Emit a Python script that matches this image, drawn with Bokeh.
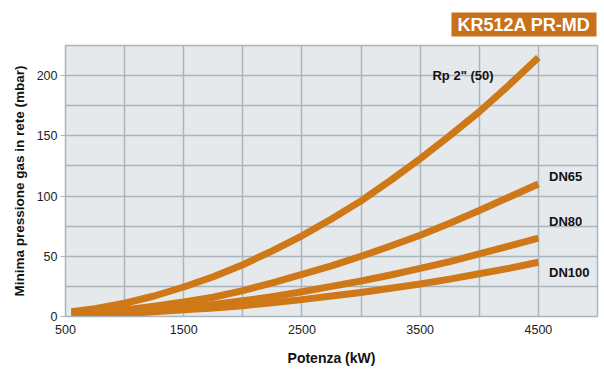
from bokeh.plotting import figure
from bokeh.models import Range1d, FixedTicker, Label, Title
from bokeh.embed import file_html
from bokeh.resources import INLINE

# Data (Potenza kW vs pressure mbar)
potenza = [550, 750, 1000, 1250, 1500, 1750, 2000, 2250, 2500,
           2750, 3000, 3250, 3500, 3750, 4000, 4250, 4500]
rp2_50 = [4, 6.5, 11, 17, 24.5, 33, 43, 54.5, 67, 81, 96, 113, 131, 150, 170, 192, 215]
dn65 = [2.5, 3.5, 5.5, 8.5, 12, 16, 21.5, 28, 35, 42, 50, 58.5, 67.5, 77.5, 88, 99, 110]
dn80 = [2, 2.5, 3.5, 5.5, 7.5, 10, 13, 16.5, 20.5, 25, 29.5, 34.5, 40, 45.5, 52, 58.5, 65]
dn100 = [1.5, 2, 2.5, 4, 5.5, 7, 9, 11.5, 14, 17, 20, 23.5, 27, 31, 35.5, 40, 45]

series_names = ['Rp 2" (50)', "DN65", "DN80", "DN100"]
label_pos = [(3604, 200), (4590, 116), (4590, 79), (4590, 36.5)]

x_major_ticks = [500, 1500, 2500, 3500, 4500]
x_grid_ticks = [500, 1000, 1500, 2000, 2500, 3000, 3500, 4000, 4500, 5000]
y_major_ticks = [0, 50, 100, 150, 200]
y_grid_ticks = [0, 25, 50, 75, 100, 125, 150, 175, 200, 225]

FONT = "Liberation Sans"
ORANGE = "#cf7818"
GRID = "#aab5bc"

p = figure(width=600, height=368, output_backend="svg", toolbar_location=None,
           x_range=Range1d(500, 5000), y_range=Range1d(0, 225),
           min_border_left=65, min_border_right=3, min_border_top=45, min_border_bottom=52)

p.background_fill_color = "#e5e9ec"
p.border_fill_color = "white"
p.outline_line_color = GRID
p.outline_line_width = 1.5

p.xaxis.ticker = FixedTicker(ticks=x_major_ticks)
p.yaxis.ticker = FixedTicker(ticks=y_major_ticks)
p.xgrid.ticker = FixedTicker(ticks=x_grid_ticks)
p.ygrid.ticker = FixedTicker(ticks=y_grid_ticks)
for g in (p.xgrid, p.ygrid):
    g.grid_line_color = GRID
    g.grid_line_width = 1.5

for ax in (p.xaxis, p.yaxis):
    ax.axis_line_color = GRID
    ax.major_tick_line_color = GRID
    ax.minor_tick_line_color = None
    ax.major_label_text_font = FONT
    ax.major_label_text_font_size = "12.5px"
    ax.major_label_text_color = "#222222"
    ax.axis_label_text_font = FONT
    ax.axis_label_text_font_style = "bold"
    ax.axis_label_text_font_size = "13.5px"
    ax.axis_label_text_color = "#111111"

p.xaxis.major_tick_out = 0
p.xaxis.major_tick_in = 0
p.xaxis.major_label_standoff = 8
p.xaxis.axis_label = "Potenza (kW)"
p.xaxis.axis_label_text_font_size = "14px"
p.xaxis.axis_label_standoff = 13
p.yaxis.major_tick_out = 5
p.yaxis.major_tick_in = 0
p.yaxis.major_label_standoff = 3
p.yaxis.axis_label = "Minima pressione gas in rete (mbar)"
p.yaxis.axis_label_standoff = 7

for ys in (rp2_50, dn65, dn80, dn100):
    p.line(potenza, ys, line_color=ORANGE, line_width=7, line_cap="butt", line_join="round")

for name, (lx, ly) in zip(series_names, label_pos):
    p.add_layout(Label(x=lx, y=ly, text=name, text_font=FONT, text_font_size="13px",
                       text_font_style="bold", text_color="#111111",
                       text_align="left", text_baseline="middle"))

p.add_layout(Title(text="KR512A PR-MD", align="right", text_font=FONT,
                   text_font_size="18px", text_font_style="bold", text_color="white",
                   background_fill_color="#c8701a",
                   padding=dict(left=6, right=6, top=2, bottom=2),
                   standoff=18, offset=1), "above")

open("out.html", "w").write(file_html(p, INLINE))
